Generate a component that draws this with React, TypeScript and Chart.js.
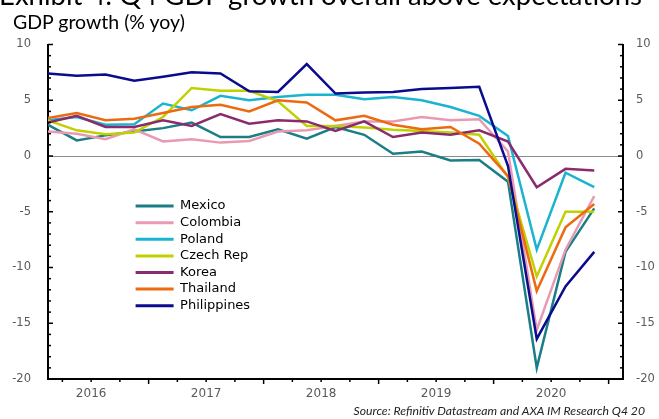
import React, { useEffect, useRef } from "react";
import { Chart, registerables } from "chart.js";

Chart.register(...registerables);

const quarters = [
  "Q1 2016", "Q2 2016", "Q3 2016", "Q4 2016",
  "Q1 2017", "Q2 2017", "Q3 2017", "Q4 2017",
  "Q1 2018", "Q2 2018", "Q3 2018", "Q4 2018",
  "Q1 2019", "Q2 2019", "Q3 2019", "Q4 2019",
  "Q1 2020", "Q2 2020", "Q3 2020", "Q4 2020",
];
const yearLabels = ["2016", "2017", "2018", "2019", "2020"];

const mexico = [2.8, 1.4, 1.85, 2.2, 2.5, 3.0, 1.7, 1.7, 2.4, 1.55, 2.6, 1.9, 0.2, 0.4, -0.4, -0.35, -2.3, -19.0, -8.6, -4.7];
const colombia = [2.2, 2.0, 1.5, 2.4, 1.3, 1.5, 1.2, 1.35, 2.2, 2.3, 2.7, 3.1, 3.1, 3.5, 3.2, 3.3, 0.4, -15.6, -8.4, -3.6];
const poland = [3.2, 3.5, 2.8, 2.85, 4.7, 4.1, 5.4, 5.0, 5.3, 5.5, 5.5, 5.1, 5.3, 5.0, 4.4, 3.6, 1.8, -8.4, -1.5, -2.8];
const czechRep = [3.2, 2.3, 1.95, 2.1, 3.5, 6.1, 5.85, 5.85, 4.9, 2.7, 2.7, 2.55, 2.35, 2.25, 2.1, 1.9, -1.9, -10.8, -5.0, -5.0];
const korea = [3.0, 3.6, 2.6, 2.6, 3.2, 2.7, 3.75, 2.9, 3.2, 3.1, 2.25, 3.1, 1.7, 2.1, 1.9, 2.3, 1.3, -2.8, -1.15, -1.3];
const thailand = [3.4, 3.85, 3.2, 3.35, 3.85, 4.4, 4.6, 4.0, 5.0, 4.8, 3.2, 3.6, 2.8, 2.4, 2.6, 1.1, -1.8, -12.1, -6.4, -4.3];
const philippines = [7.4, 7.2, 7.3, 6.75, 7.1, 7.5, 7.4, 5.8, 5.75, 8.25, 5.6, 5.7, 5.75, 6.0, 6.1, 6.2, -0.9, -16.4, -11.7, -8.6];

const seriesNames = ["Mexico", "Colombia", "Poland", "Czech Rep", "Korea", "Thailand", "Philippines"];
const seriesValues = [mexico, colombia, poland, czechRep, korea, thailand, philippines];
const seriesColors = ["#1a7e86", "#e99ab2", "#1bb4d0", "#bfd200", "#8a2b6d", "#ec6a10", "#0b0b8e"];

const AXIS_FONT = "'DejaVu Sans', sans-serif";
const TEXT_FONT = "Lato, 'Open Sans', sans-serif";

const tickMarksPlugin = {
  id: "tickMarks",
  afterDraw(chart: any) {
    const ctx = chart.ctx;
    const yL = chart.scales.y;
    const yR = chart.scales.y2;
    const x = chart.scales.x;
    const area = chart.chartArea;
    ctx.save();
    ctx.strokeStyle = "#000";
    ctx.lineWidth = 1.5;
    for (let v = yL.min; v <= yL.max; v += 1) {
      const py = yL.getPixelForValue(v);
      const len = v % 5 === 0 ? 5 : 3;
      ctx.beginPath();
      ctx.moveTo(area.left, py);
      ctx.lineTo(area.left + len, py);
      ctx.stroke();
      const pr = yR.getPixelForValue(v);
      ctx.beginPath();
      ctx.moveTo(area.right, pr);
      ctx.lineTo(area.right - len, pr);
      ctx.stroke();
    }
    for (let i = 0; i < quarters.length; i++) {
      const px = x.getPixelForValue(i + 0.5);
      const len = i % 4 === 3 ? 5 : 3;
      ctx.beginPath();
      ctx.moveTo(px, area.bottom);
      ctx.lineTo(px, area.bottom + len);
      ctx.stroke();
    }
    ctx.restore();
  },
};

const legendPlacePlugin = {
  id: "legendPlace",
  afterLayout(chart: any) {
    const lg = chart.legend;
    if (!lg) return;
    const w = lg.width;
    const h = lg.height;
    lg.left = 132;
    lg.top = 196;
    lg.right = lg.left + w;
    lg.bottom = lg.top + h;
  },
};

export default function App() {
  const ref = useRef<HTMLCanvasElement | null>(null);

  useEffect(() => {
    if (!ref.current) return;
    const datasets = seriesNames.map((name, k) => ({
      label: name,
      data: seriesValues[k].map((v, i) => ({ x: i, y: v })),
      borderColor: seriesColors[k],
      backgroundColor: seriesColors[k],
      borderWidth: 2.5,
      pointRadius: 0,
      tension: 0,
      yAxisID: "y",
      order: seriesNames.length - k,
    }));
    const tickVals = quarters.map((_, i) => i + 0.5);
    const chart = new Chart(ref.current, {
      type: "line",
      data: { datasets },
      plugins: [tickMarksPlugin, legendPlacePlugin],
      options: {
        animation: false,
        responsive: false,
        devicePixelRatio: 1,
        layout: { padding: { top: 44.5, left: 0, right: 0, bottom: 0 } },
        plugins: {
          tooltip: { enabled: false },
          title: { display: false },
          legend: {
            display: true,
            position: "chartArea",
            align: "start",
            labels: {
              boxWidth: 38,
              boxHeight: 3,
              padding: 3.6,
              color: "#000",
              font: { family: AXIS_FONT, size: 13 },
              sort: (a: any, b: any) => a.datasetIndex - b.datasetIndex,
              generateLabels: (c: any) =>
                (Chart.defaults.plugins.legend.labels.generateLabels as any)(c).map((l: any) => ({
                  ...l,
                  lineWidth: 0,
                })),
            },
          },
        },
        scales: {
          x: {
            type: "linear",
            min: 0,
            max: 20,
            afterBuildTicks: (axis: any) => {
              axis.ticks = tickVals.map((v) => ({ value: v }));
            },
            afterFit: (axis: any) => {
              axis.height = 40;
            },
            ticks: {
              autoSkip: false,
              maxRotation: 0,
              padding: 8,
              color: "#595959",
              font: { family: AXIS_FONT, size: 12 },
              callback: (value: any) => {
                const i = Number(value) - 0.5;
                if (i % 4 === 1) return yearLabels[(i - 1) / 4];
                return "";
              },
            },
            grid: { display: false, drawTicks: false },
            border: { display: true, color: "#000", width: 2 },
          },
          y: {
            position: "left",
            min: -20,
            max: 10,
            afterFit: (axis: any) => {
              axis.width = 48;
            },
            ticks: {
              stepSize: 5,
              padding: 17,
              color: "#595959",
              font: { family: AXIS_FONT, size: 11.5 },
            },
            grid: {
              drawTicks: false,
              color: (ctx: any) => (ctx.tick && ctx.tick.value === 0 ? "#8c8c8c" : "rgba(0,0,0,0)"),
              lineWidth: 1,
            },
            border: { display: true, color: "#000", width: 2 },
          },
          y2: {
            position: "right",
            min: -20,
            max: 10,
            afterFit: (axis: any) => {
              axis.width = 36;
            },
            ticks: {
              stepSize: 5,
              padding: 13,
              color: "#595959",
              font: { family: AXIS_FONT, size: 11.5 },
            },
            grid: { display: false, drawTicks: false },
            border: { display: true, color: "#000", width: 2 },
          },
        },
      },
    } as any);
    return () => chart.destroy();
  }, []);

  return (
    <div
      style={{
        position: "absolute",
        left: 0,
        top: 0,
        width: 659,
        height: 419,
        overflow: "hidden",
        background: "#fff",
      }}
    >
      <canvas ref={ref} width={659} height={419} style={{ position: "absolute", left: 0, top: 0, width: 659, height: 419 }} />
      <div
        style={{
          position: "absolute",
          left: -1,
          top: -19,
          fontFamily: TEXT_FONT,
          fontSize: 27.5,
          lineHeight: "27px",
          color: "#000",
          whiteSpace: "nowrap",
        }}
      >
        Exhibit 4: Q4 GDP growth overall above expectations
      </div>
      <div
        style={{
          position: "absolute",
          left: 13,
          top: 12,
          fontFamily: TEXT_FONT,
          fontSize: 19.5,
          lineHeight: "20px",
          color: "#000",
          whiteSpace: "nowrap",
        }}
      >
        GDP growth (% yoy)
      </div>
      <div
        style={{
          position: "absolute",
          right: 14,
          top: 404,
          fontFamily: TEXT_FONT,
          fontSize: 12.2,
          fontStyle: "italic",
          lineHeight: "13px",
          color: "#222",
          whiteSpace: "nowrap",
        }}
      >
        Source: Refinitiv Datastream and AXA IM Research Q4 20
      </div>
    </div>
  );
}
